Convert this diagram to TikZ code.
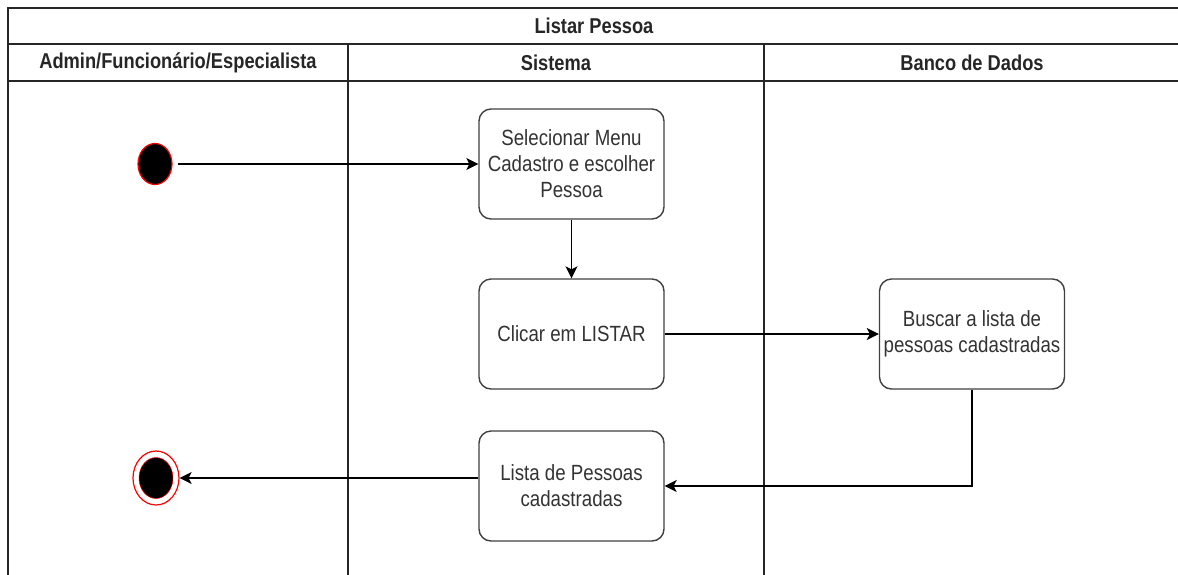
\documentclass[tikz,border=0pt]{standalone}
\usepackage{fontspec}
\setmainfont{Liberation Sans}[FakeStretch=0.85]
\usetikzlibrary{arrows.meta,shapes.geometric}
\definecolor{ink}{HTML}{333333}
\begin{document}
\begin{tikzpicture}[x=1pt,y=-1pt,
  lane/.style={draw=black!85, line width=1.6pt},
  head/.style={font=\fontsize{21.5}{24}\selectfont\bfseries, text=black!85},
  act/.style={draw=black!75, line width=1.4pt, rounded corners=12pt, fill=white,
    minimum width=185pt, minimum height=110pt, align=center,
    text=ink, font=\fontsize{22}{26}\selectfont},
  flow/.style={draw=black, line width=1.3pt, -{Stealth[length=12pt,width=12pt,inset=3pt]}},
  startdot/.style={ellipse, draw=red, fill=black, line width=1.2pt, inner sep=0pt,
    minimum width=34pt, minimum height=41pt}]
\useasboundingbox (0,0) rectangle (1178,574);

% pool and lanes
\draw[lane] (1190,8) -- (8,8) -- (8,590);
\draw[lane] (8,44) -- (1190,44);
\draw[lane] (8,81) -- (1190,81);
\draw[lane] (348,44) -- (348,590);
\draw[lane] (764,44) -- (764,590);

\node[head] (title) at (594,26) {Listar Pessoa};
\node[head] (h1) at (178,63) {Admin/Funcionário/Especialista};
\node[head] (h2) at (556,63) {Sistema};
\node[head] (h3) at (972,63) {Banco de Dados};

% activities
\node[act] (a1) at (571.5,164) {Selecionar Menu\\Cadastro e escolher\\Pessoa};
\node[act] (a2) at (571.5,334) {Clicar em LISTAR};
\node[act] (a3) at (972,334) {Buscar a lista de\\pessoas cadastradas};
\node[act] (a4) at (571.5,486) {Lista de Pessoas\\cadastradas};

% initial and final states
\node[startdot] (start) at (155,164) {};
\node[ellipse, draw=red, line width=1.2pt, inner sep=0pt,
  minimum width=46pt, minimum height=54pt] (end) at (156,478) {};
\node[ellipse, fill=black, draw=red, line width=0.5pt, inner sep=0pt,
  minimum width=34pt, minimum height=41pt] (endcore) at (end.center) {};

% control flow
\draw[flow, shorten <=5pt] (start.east) -- (start.east -| a1.west);
\draw[flow] (a1.south) -- (a2.north);
\draw[flow, line width=2.2pt] (a2.east) -- (a3.west);
\draw[flow] (a3.south) |- (a4.east);
\draw[flow] (a4.west |- end) -- (end.east);
\end{tikzpicture}
\end{document}
